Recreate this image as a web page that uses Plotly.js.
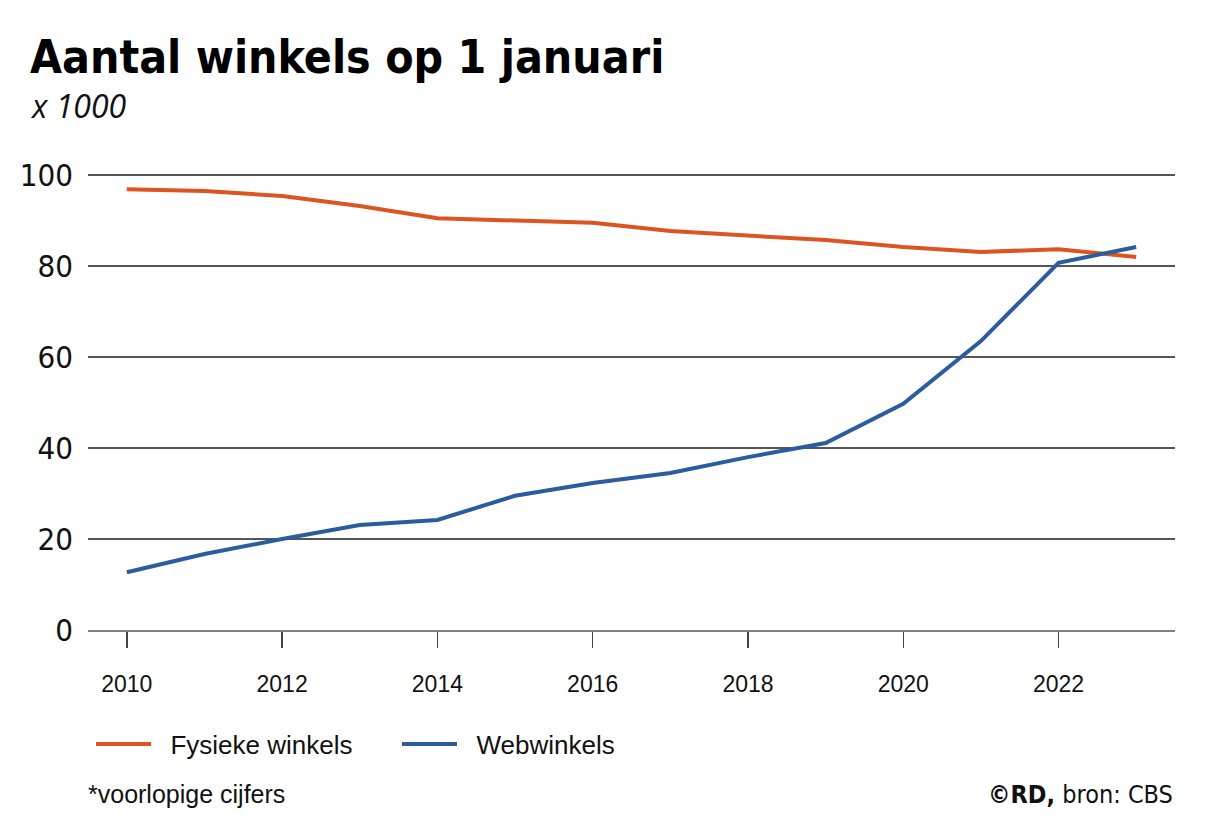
<!DOCTYPE html>
<html>
<head>
<meta charset="utf-8">
<script src="https://cdn.plot.ly/plotly-3.0.1.min.js"></script>
<style>
  html, body { margin: 0; padding: 0; background: #fff; }
  #chart { width: 1220px; height: 827px; }
</style>
</head>
<body>
<div id="chart"></div>
<script>
const years = [2010, 2011, 2012, 2013, 2014, 2015, 2016, 2017, 2018, 2019, 2020, 2021, 2022, 2023];
const fysiekeWinkels = [96.9, 96.5, 95.4, 93.2, 90.5, 90.1, 89.5, 87.7, 86.8, 85.7, 84.2, 83.1, 83.7, 82.0];
const webwinkels = [12.7, 16.7, 20.0, 23.1, 24.2, 29.5, 32.3, 34.5, 38.0, 41.1, 49.7, 63.5, 80.7, 84.2];
const xTickVals = [2010, 2012, 2014, 2016, 2018, 2020, 2022];
const yTickVals = [0, 20, 40, 60, 80, 100];
const seriesNames = ['Fysieke winkels', 'Webwinkels'];

const condensed = '"Liberation Sans Narrow", "DejaVu Sans Condensed", sans-serif';
const arial = '"Liberation Sans", Arial, sans-serif';

const traces = [
  {
    x: years, y: fysiekeWinkels, name: '\u00A0\u00A0' + seriesNames[0], type: 'scatter', mode: 'lines',
    line: { color: '#DC5520', width: 4 }, hoverinfo: 'x+y'
  },
  {
    x: years, y: webwinkels, name: '\u00A0\u00A0' + seriesNames[1], type: 'scatter', mode: 'lines',
    line: { color: '#2B5C9E', width: 4 }, hoverinfo: 'x+y'
  }
];

const layout = {
  width: 1220, height: 827,
  paper_bgcolor: '#fff', plot_bgcolor: '#fff',
  margin: { l: 88, r: 45, t: 173, b: 197, pad: 0 },
  showlegend: true,
  title: {
    text: '<b>Aantal winkels op 1 januari</b>',
    font: { family: condensed, size: 46, color: '#000' },
    x: 30 / 1220, xanchor: 'left', xref: 'container',
    y: 1 - 57 / 827, yanchor: 'middle', yref: 'container'
  },
  xaxis: {
    range: [2009.5, 2023.5],
    tickvals: xTickVals, ticktext: xTickVals.map(String),
    ticks: 'outside', ticklen: 16, tickwidth: 1.5, tickcolor: '#444',
    showgrid: false, zeroline: false,
    showline: true, linecolor: '#808080', linewidth: 2,
    tickfont: { family: arial, size: 23, color: '#111' },
    ticklabelstandoff: 16, fixedrange: true
  },
  yaxis: {
    range: [0, 100.45],
    tickvals: yTickVals, ticktext: yTickVals.map(String),
    ticks: '', showgrid: true, gridcolor: '#555', gridwidth: 1.2,
    zeroline: true, zerolinecolor: '#808080', zerolinewidth: 2,
    showline: false,
    tickfont: { family: condensed, size: 31, color: '#111' },
    ticklabelstandoff: 14, fixedrange: true
  },
  legend: {
    orientation: 'h', x: 91 / 1220, xref: 'container', xanchor: 'left',
    y: 1 - 744 / 827, yref: 'container', yanchor: 'middle',
    font: { family: arial, size: 26, color: '#111' },
    itemwidth: 55, entrywidth: 236, entrywidthmode: 'pixels',
    traceorder: 'normal', bgcolor: 'rgba(0,0,0,0)'
  },
  annotations: [
    {
      text: '<i>x 1000</i>', xref: 'paper', yref: 'paper', showarrow: false,
      x: (28 - 88) / (1220 - 88 - 45), xanchor: 'left',
      y: 1 + (173 - 105) / 457, yanchor: 'middle',
      font: { family: '"Open Sans", "Noto Sans", sans-serif', size: 32, color: '#111' }
    },
    {
      text: '*voorlopige cijfers', xref: 'paper', yref: 'paper', showarrow: false,
      x: (86 - 88) / (1220 - 88 - 45), xanchor: 'left',
      y: -(794 - 630) / 457, yanchor: 'middle',
      font: { family: arial, size: 25, color: '#111' }
    },
    {
      text: '<b>©RD,</b> bron: CBS', xref: 'paper', yref: 'paper', showarrow: false,
      x: 1, xanchor: 'right',
      y: -(794 - 630) / 457, yanchor: 'middle',
      font: { family: condensed, size: 25, color: '#111' }
    }
  ]
};

Plotly.newPlot('chart', traces, layout, { displayModeBar: false, staticPlot: true });
</script>
</body>
</html>
